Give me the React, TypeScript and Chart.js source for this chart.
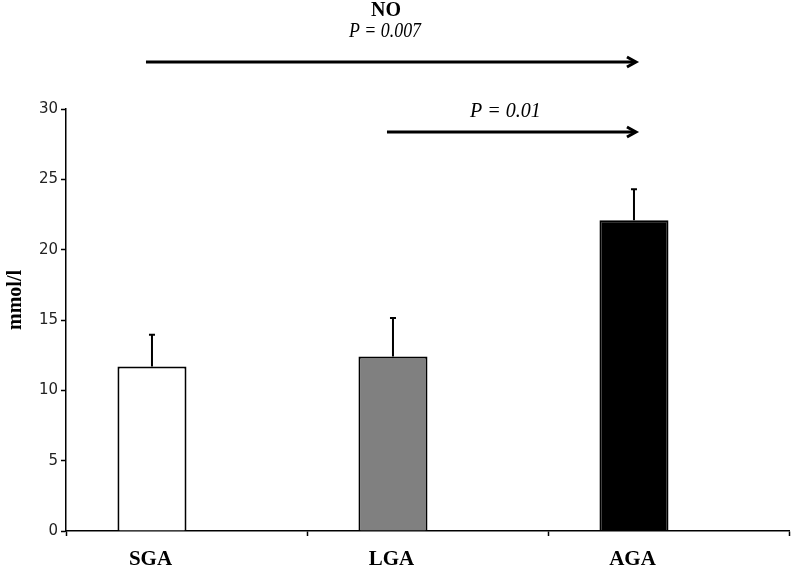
import React, { useEffect, useRef } from "react";
import { Chart, registerables } from "chart.js";

Chart.register(...registerables);

const categories = ["SGA", "LGA", "AGA"];
const means = [11.7, 12.4, 22.1];
const sds = [2.25, 2.75, 2.2];
const barColors = ["#ffffff", "#808080", "#000000"];
const yMin = 0;
const yMax = 30;
const yStep = 5;
const yTitle = "mmol/l";
const headerLabel = "NO";
const headerValue = 36.6;
const compFrom = [0, 1];
const compTo = [2, 2];
const compLabels = ["P = 0.007", "P = 0.01"];
const compArrowValues = [33.35, 28.4];
const compTextValues = [35.15, 29.4];

const overlayPlugin = {
  id: "overlay",
  afterDatasetsDraw(chart: any) {
    const ctx = chart.ctx;
    const meta = chart.getDatasetMeta(0);
    const y = chart.scales.y;
    ctx.save();
    // error bars
    ctx.strokeStyle = "#000";
    ctx.lineWidth = 2;
    meta.data.forEach((bar: any, i: number) => {
      const top = y.getPixelForValue(means[i]);
      const hi = y.getPixelForValue(means[i] + sds[i]);
      ctx.beginPath();
      ctx.moveTo(bar.x, top);
      ctx.lineTo(bar.x, hi);
      ctx.moveTo(bar.x - 3, hi);
      ctx.lineTo(bar.x + 3, hi);
      ctx.stroke();
    });
    // comparison arrows
    ctx.lineWidth = 3;
    ctx.lineCap = "butt";
    compFrom.forEach((f, k) => {
      const x1 = meta.data[f].x - 6;
      const x2 = meta.data[compTo[k]].x + 2;
      const ay = Math.round(y.getPixelForValue(compArrowValues[k]));
      ctx.beginPath();
      ctx.moveTo(x1, ay);
      ctx.lineTo(x2 - 2, ay);
      ctx.stroke();
      ctx.beginPath();
      ctx.lineJoin = "miter";
      ctx.moveTo(x2 - 9, ay - 5);
      ctx.lineTo(x2, ay);
      ctx.lineTo(x2 - 9, ay + 5);
      ctx.stroke();
      ctx.fillStyle = "#000";
      ctx.font = "italic 20px 'Liberation Serif', serif";
      ctx.textAlign = "center";
      ctx.textBaseline = "alphabetic";
      const tx = (x1 + x2) / 2 - (k === 0 ? 6 : 6);
      ctx.fillText(compLabels[k], tx, y.getPixelForValue(compTextValues[k]), 72);
    });
    // header
    const hx = (meta.data[compFrom[0]].x + meta.data[compTo[0]].x) / 2 - 7;
    ctx.font = "bold 20px 'Liberation Serif', serif";
    ctx.textAlign = "center";
    ctx.textBaseline = "alphabetic";
    ctx.fillText(headerLabel, hx, y.getPixelForValue(headerValue));
    // y title
    ctx.textBaseline = "middle";
    ctx.translate(16, (chart.chartArea.top + chart.chartArea.bottom) / 2 - 20);
    ctx.rotate(-Math.PI / 2);
    ctx.font = "bold 20px 'Liberation Serif', serif";
    ctx.fillText(yTitle, 0, 0);
    ctx.restore();
  },
};

export default function App() {
  const ref = useRef<HTMLCanvasElement>(null);
  useEffect(() => {
    if (!ref.current) return;
    const chart = new Chart(ref.current, {
      type: "bar",
      data: {
        labels: categories,
        datasets: [
          {
            label: "mean",
            data: means,
            backgroundColor: barColors,
            borderColor: "#000",
            borderWidth: 2,
            categoryPercentage: 0.573,
            barPercentage: 1.0,
          },
          {
            label: "spacer",
            data: [null, null, null],
            categoryPercentage: 0.573,
            barPercentage: 1.0,
          },
        ],
      },
      options: {
        responsive: false,
        animation: false,
        events: [],
        layout: { padding: { top: 109, right: 3, left: 0, bottom: 0 } },
        plugins: { legend: { display: false }, tooltip: { enabled: false } },
        scales: {
          x: {
            offset: true,
            afterFit: (s: any) => {
              s.height = 39;
            },
            grid: {
              display: true,
              offset: true,
              drawOnChartArea: false,
              drawTicks: true,
              tickLength: 5,
              tickColor: "#000",
              tickWidth: 1.5,
            },
            border: { display: true, color: "#000", width: 1.5 },
            ticks: {
              color: "#000",
              font: { family: "'Liberation Serif', serif", weight: "bold", size: 21 },
              labelOffset: -36,
              padding: 11,
            },
          },
          y: {
            min: yMin,
            max: yMax,
            afterFit: (s: any) => {
              s.width = 66;
            },
            grid: {
              display: true,
              drawOnChartArea: false,
              drawTicks: true,
              tickLength: 5,
              tickColor: "#000",
              tickWidth: 1.5,
            },
            border: { display: true, color: "#000", width: 1.5 },
            ticks: {
              stepSize: yStep,
              color: "#222",
              font: { family: "'DejaVu Sans', sans-serif", size: 15 },
              padding: 3,
            },
          },
        },
      },
      plugins: [overlayPlugin],
    });
    return () => chart.destroy();
  }, []);
  return (
    <div style={{ position: "absolute", left: 0, top: 0, width: 792, height: 570, background: "#fff" }}>
      <canvas ref={ref} width={792} height={570} style={{ display: "block" }} />
    </div>
  );
}
